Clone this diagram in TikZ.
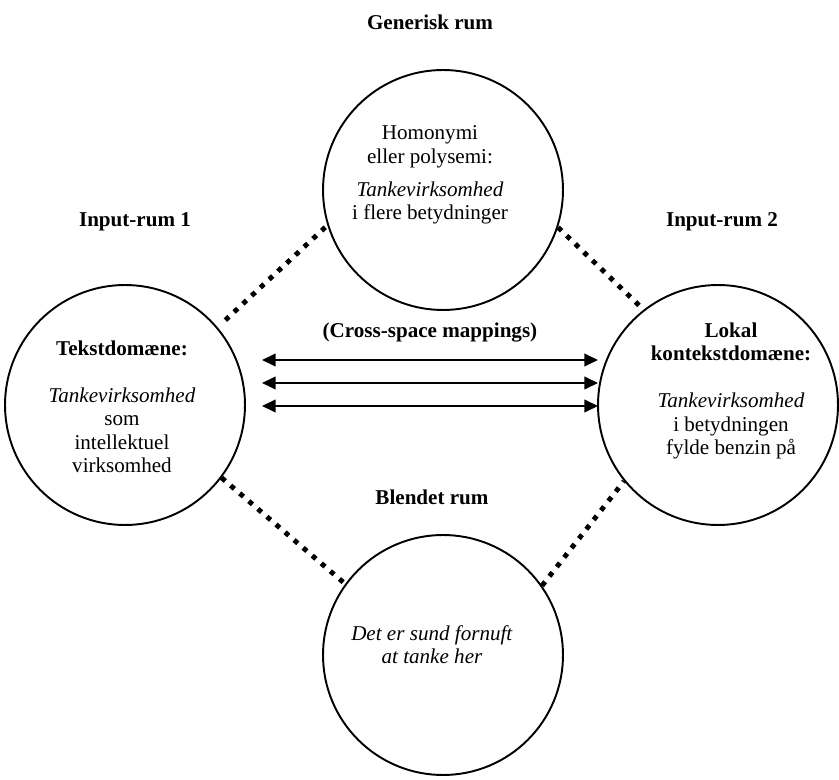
\documentclass[tikz,border=0pt]{standalone}
\usepackage{fontspec}
\setmainfont{Liberation Serif}
\usetikzlibrary{arrows.meta}

\tikzset{
  room/.style={draw, circle, line width=1.1pt, inner sep=0pt, minimum size=4.8cm},
  roomtext/.style={align=center, font=\fontsize{12}{13.3}\selectfont},
  title/.style={font=\fontsize{12}{13.3}\selectfont\bfseries},
  dotline/.style={line width=2.8pt, dash pattern=on 2.8pt off 4pt},
  mapping/.style={{Triangle[length=7.8pt,width=7.2pt]}-{Triangle[length=7.8pt,width=7.2pt]}, line width=1.1pt}
}

\begin{document}
\begin{tikzpicture}[x=0.02cm, y=-0.02cm]
  \useasboundingbox (0,0) rectangle (839,780);

  % rum
  \node[room] (gen) at (443,190) {};
  \node[room] (inA) at (125,405) {};
  \node[room] (inB) at (718,405) {};
  \node[room] (blend) at (443,655) {};

  % overskrifter
  \node[title] (tGen) at (430,22) {Generisk rum};
  \node[title] (tInA) at (135,222) {Input-rum 1};
  \node[title] (tInB) at (722,222) {Input-rum 2};
  \node[title] (tBlend) at (432,497) {Blendet rum};
  \node[title] (tMap) at (430,333) {(Cross-space mappings)};

  % tekst i cirklerne
  \node[roomtext] (xGen) at (430,175) {Homonymi\\eller polysemi:\\[5.5pt]\textit{Tankevirksomhed}\\i flere betydninger};
  \node[roomtext] (xInA) at (122,407) {\textbf{Tekstdomæne:}\\[13.3pt]\textit{Tankevirksomhed}\\som\\intellektuel\\virksomhed};
  \node[roomtext] (xInB) at (731,391) {\textbf{Lokal}\\\textbf{kontekstdomæne:}\\[13.3pt]\textit{Tankevirksomhed}\\i betydningen\\fylde benzin på};
  \node[roomtext] (xBlend) at (432,645) {\textit{Det er sund fornuft}\\\textit{at tanke her}};

  % forbindelser
  \draw[dotline, shorten <=6pt] (inA.40) -- (gen.197);
  \draw[dotline] (gen.-18) -- (inB.128);
  \draw[dotline] (inA.-37) -- (blend.144);
  \draw[dotline] (blend.35) -- (inB.-141);

  % mappings
  \coordinate (mA1) at (262,360);
  \coordinate (mB1) at (598,360);
  \coordinate (mA2) at (262,383);
  \coordinate (mB2) at (598,383);
  \coordinate (mA3) at (262,406);
  \coordinate (mB3) at (598,406);
  \draw[mapping] (mA1) -- (mB1);
  \draw[mapping] (mA2) -- (mB2);
  \draw[mapping] (mA3) -- (mB3);
\end{tikzpicture}
\end{document}
